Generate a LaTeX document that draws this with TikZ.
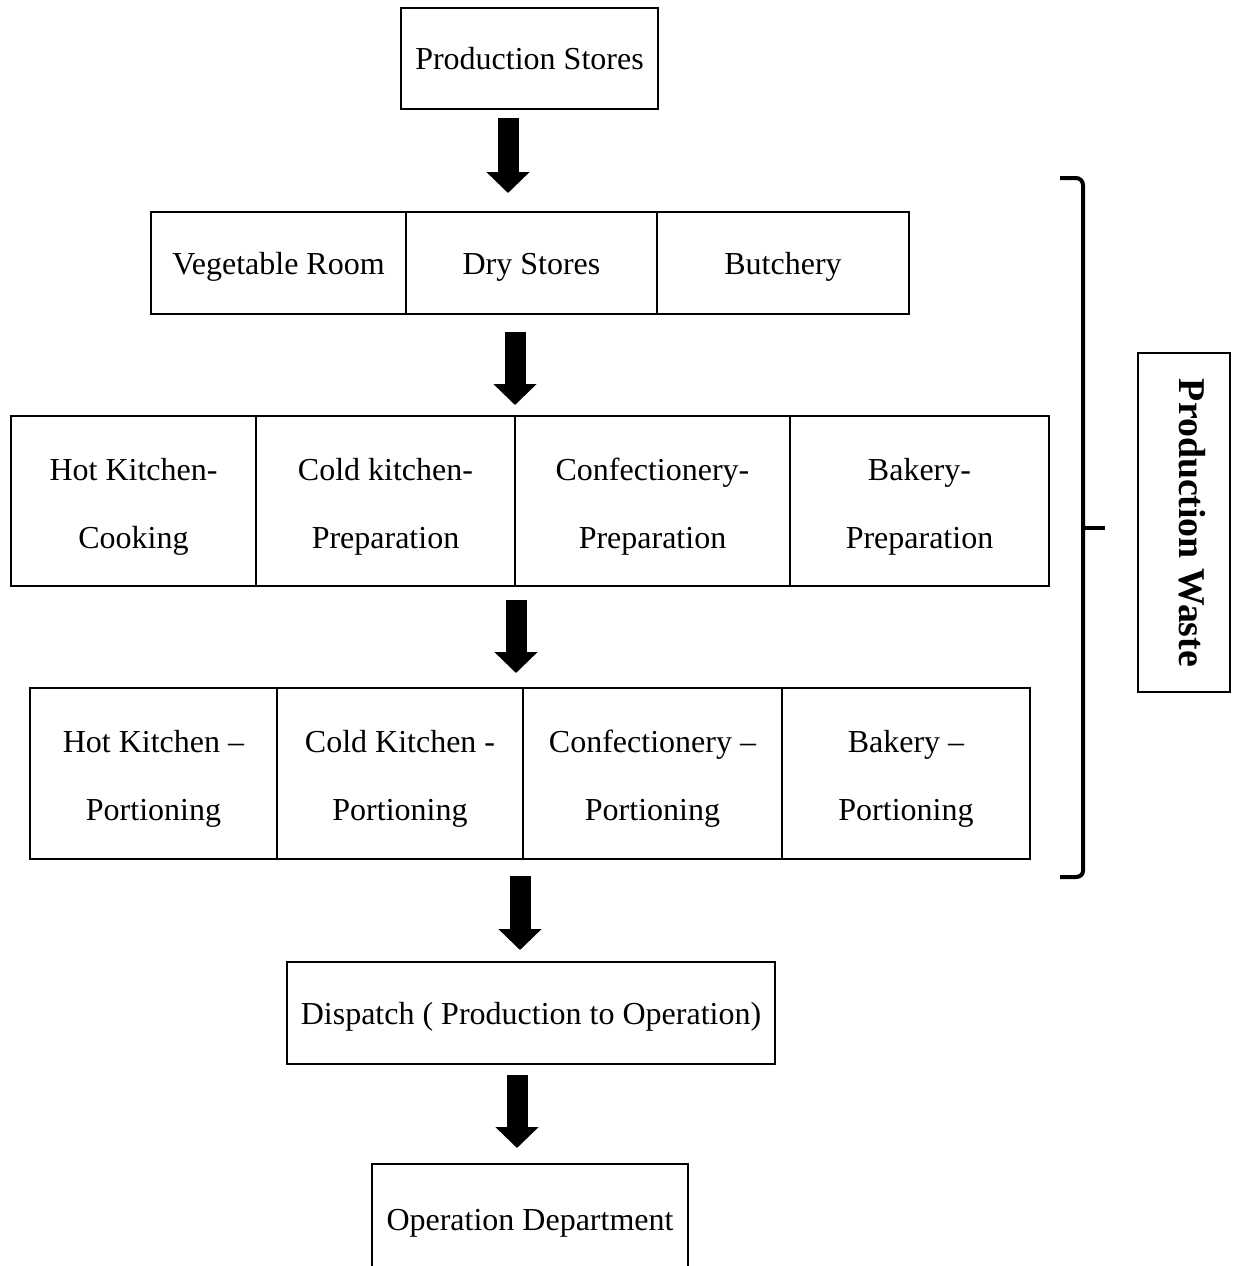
\documentclass[tikz,border=0pt]{standalone}
\usepackage{fontspec}
\setmainfont{Liberation Serif}
\usetikzlibrary{arrows.meta,calc}
\newcommand{\boxstrut}{\rule[-4pt]{0pt}{19pt}}
\newcommand{\topstrut}{\rule{0pt}{17pt}}
\newcommand{\botstrut}{\rule[-4pt]{0pt}{4pt}}
\begin{document}
\begin{tikzpicture}[x=0.5pt,y=-0.5pt,
  box/.style={draw,line width=1pt,inner sep=0pt,outer sep=0pt,align=center,
    font=\fontsize{16}{34}\selectfont},
  oneline/.style={box,execute at begin node=\boxstrut},
  blockarrow/.style={line width=10.5pt,-{Triangle[width=21pt,length=10.5pt]}},
  bracestyle/.style={line width=2pt,line cap=butt},
  ]
\useasboundingbox (0,0) rectangle (1235,1266);
\clip (0,0) rectangle (1235,1266);

% top
\node[oneline,minimum width=128.5pt,minimum height=50.5pt] (ps) at (529.5,58.5) {Production Stores};

% row 2
\node[oneline,minimum width=127.5pt,minimum height=51pt] (veg) at (278.5,263) {Vegetable Room};
\node[oneline,minimum width=125.5pt,minimum height=51pt] (dry) at (531.5,263) {Dry Stores};
\node[oneline,minimum width=126pt,minimum height=51pt] (butch) at (783,263) {Butchery};

% row 3
\node[box,minimum width=122.5pt,minimum height=85pt] (hk) at (133.5,501) {\topstrut Hot Kitchen-\\Cooking\botstrut};
\node[box,minimum width=129.5pt,minimum height=85pt] (ck) at (385.5,501) {\topstrut Cold kitchen-\\Preparation\botstrut};
\node[box,minimum width=137.5pt,minimum height=85pt] (cf) at (652.5,501) {\topstrut Confectionery-\\Preparation\botstrut};
\node[box,minimum width=129.5pt,minimum height=85pt] (bk) at (919.5,501) {\topstrut Bakery-\\Preparation\botstrut};

% row 4
\node[box,minimum width=123.5pt,minimum height=85.5pt] (hkp) at (153.5,773.5) {\topstrut Hot Kitchen --\\Portioning\botstrut};
\node[box,minimum width=123pt,minimum height=85.5pt] (ckp) at (400,773.5) {\topstrut Cold Kitchen -\\Portioning\botstrut};
\node[box,minimum width=129.5pt,minimum height=85.5pt] (cfp) at (652.5,773.5) {\topstrut Confectionery --\\Portioning\botstrut};
\node[box,minimum width=124pt,minimum height=85.5pt] (bkp) at (906,773.5) {\topstrut Bakery --\\Portioning\botstrut};

% dispatch and operation
\node[oneline,minimum width=244pt,minimum height=51pt] (disp) at (531,1013) {Dispatch ( Production to Operation)};
\node[oneline,minimum width=158pt,minimum height=55pt] (oper) at (530,1219) {Operation Department};

% production waste
\node[draw,line width=0.6pt,inner sep=0pt,outer sep=0pt,minimum width=46pt,minimum height=169.5pt] (wbox) at (1184,522.5) {};
\node[rotate=-90,inner sep=0pt,font=\bfseries\fontsize{18.9}{22}\selectfont] (wtext) at (1192,523) {Production Waste};

% brace
\coordinate (btop) at (1060,178);
\coordinate (bbot) at (1060,877);
\coordinate (bmid) at (1083,528);
\coordinate (btip) at (1105,528);
\draw[bracestyle] (btop) -- ++(16,0) to[out=0,in=90] ++(7,7) -- ($(bbot)+(23,-6)$) to[out=-90,in=0] ($(bbot)+(16,0)$) -- (bbot);
\draw[bracestyle] (bmid) -- (btip);

% arrows
\draw[blockarrow] ($(ps.south)+(-21.5,9)$) -- ($(dry.north)+(-23.5,-19)$);
\draw[blockarrow] ($(dry.south)+(-16.5,18)$) -- ($(cf.north west)+(0,-11)$);
\draw[blockarrow] ($(cf.south west)+(1,14)$) -- ($(ckp.north east)+(-7,-15)$);
\draw[blockarrow] ($(ckp.south east)+(-3,17)$) -- ($(disp.north)+(-11,-12)$);
\draw[blockarrow] ($(disp.south)+(-14,11)$) -- ($(oper.north)+(-13,-16)$);
\end{tikzpicture}
\end{document}
